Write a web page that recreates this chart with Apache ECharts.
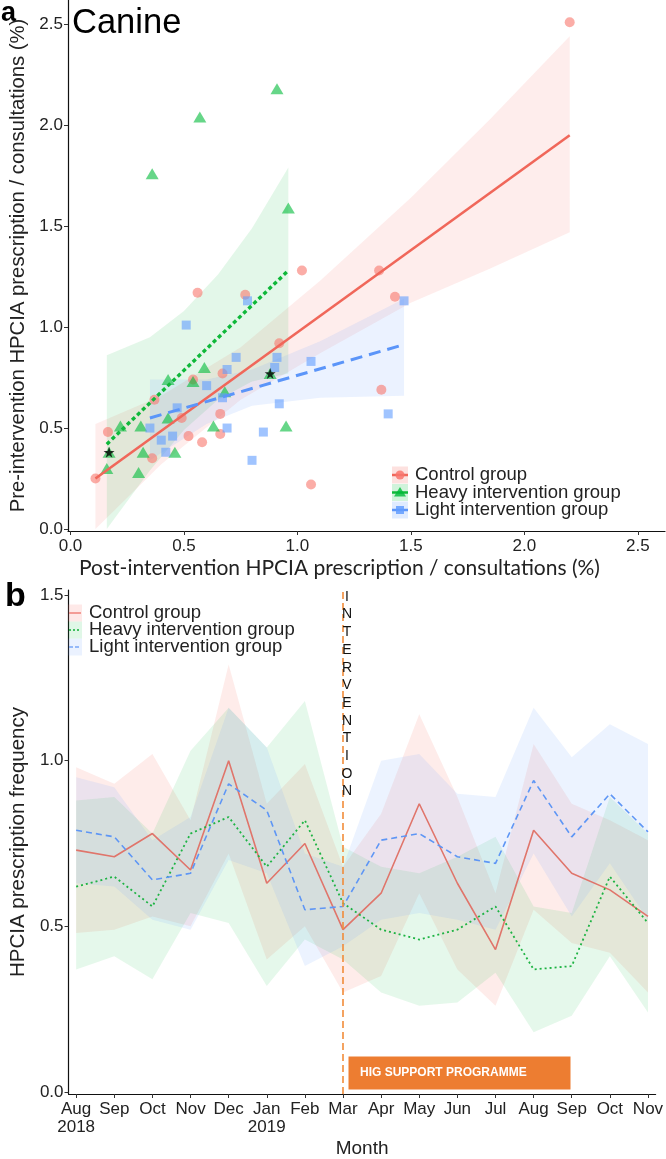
<!DOCTYPE html>
<html><head><meta charset="utf-8">
<script src="https://cdn.jsdelivr.net/npm/echarts@6/dist/echarts.min.js"></script>
<style>html,body{margin:0;padding:0;background:#fff}#c{width:666px;height:1159px}</style>
</head><body><div id="c"></div>
<script>
// ---------- Panel a: scatter data (post, pre) ----------
const controlPts = [[0.11,0.25],[0.165,0.48],[0.36,0.35],[0.37,0.64],[0.49,0.55],[0.52,0.46],[0.54,0.74],[0.56,1.17],[0.58,0.43],[0.66,0.57],[0.66,0.47],[0.67,0.77],[0.77,1.16],[0.92,0.92],[1.02,1.28],[1.06,0.22],[1.36,1.28],[1.37,0.69],[1.43,1.15],[2.2,2.51]];
const heavyPts = [[0.16,0.30],[0.17,0.38],[0.22,0.51],[0.30,0.28],[0.31,0.51],[0.32,0.38],[0.36,1.76],[0.43,0.74],[0.43,0.55],[0.46,0.38],[0.54,0.73],[0.57,2.04],[0.59,0.80],[0.63,0.51],[0.68,0.68],[0.88,0.77],[0.91,2.18],[0.95,0.51],[0.96,1.59]];
const lightPts = [[0.35,0.50],[0.40,0.44],[0.42,0.38],[0.45,0.46],[0.47,0.60],[0.51,1.01],[0.60,0.71],[0.67,0.65],[0.69,0.79],[0.69,0.50],[0.73,0.85],[0.78,1.13],[0.80,0.34],[0.85,0.48],[0.90,0.80],[0.91,0.85],[0.92,0.62],[1.06,0.83],[1.40,0.57],[1.47,1.13]];
const starPts = [[0.17,0.38],[0.88,0.77]];
// fitted lines
const controlFit = [[0.11,0.25],[2.2,1.95]];
const heavyFit = [[0.16,0.42],[0.96,1.28]];
const lightFit = [[0.35,0.55],[1.46,0.91]];
// confidence bands
const controlBandX = [0.11,0.4,0.75,1.1,1.5,1.85,2.2];
const controlBandLo = [0.0,0.32,0.64,0.87,1.12,1.29,1.47];
const controlBandHi = [0.52,0.66,0.90,1.23,1.64,2.03,2.44];
const heavyBandX = [0.16,0.35,0.5,0.65,0.8,0.96];
const heavyBandLo = [0.0,0.29,0.49,0.64,0.73,0.77];
const heavyBandHi = [0.86,0.95,1.08,1.26,1.49,1.79];
const lightBandX = [0.35,0.6,0.8,1.1,1.47];
const lightBandLo = [0.34,0.52,0.61,0.65,0.66];
const lightBandHi = [0.74,0.74,0.79,0.93,1.14];
const aTicks = [0,0.5,1,1.5,2,2.5];

// ---------- Panel b: monthly series ----------
const months = ['Aug','Sep','Oct','Nov','Dec','Jan','Feb','Mar','Apr','May','Jun','Jul','Aug','Sep','Oct','Nov'];
const monthYears = {0:'2018',5:'2019'};
const controlMean = [0.73,0.71,0.78,0.67,1.00,0.63,0.75,0.49,0.60,0.87,0.63,0.43,0.79,0.66,0.61,0.53];
const controlLo   = [0.48,0.49,0.53,0.50,0.72,0.40,0.50,0.30,0.35,0.60,0.37,0.26,0.55,0.45,0.42,0.30];
const controlHi   = [0.98,0.93,1.02,0.82,1.29,0.87,0.99,0.68,0.84,1.14,0.89,0.60,1.05,0.87,0.82,0.76];
const heavyMean = [0.62,0.65,0.56,0.78,0.83,0.68,0.82,0.57,0.49,0.46,0.49,0.56,0.37,0.38,0.65,0.51];
const heavyLo   = [0.37,0.41,0.34,0.54,0.51,0.32,0.46,0.40,0.30,0.26,0.27,0.36,0.18,0.23,0.41,0.24];
const heavyHi   = [0.88,0.89,0.78,1.03,1.16,1.04,1.18,0.74,0.68,0.66,0.71,0.77,0.56,0.54,0.89,0.78];
const lightMean = [0.79,0.77,0.64,0.66,0.93,0.85,0.55,0.56,0.76,0.78,0.71,0.69,0.94,0.77,0.90,0.785];
const lightLo   = [0.63,0.62,0.52,0.49,0.70,0.66,0.38,0.44,0.52,0.54,0.52,0.49,0.72,0.53,0.69,0.52];
const lightHi   = [0.95,0.92,0.76,0.83,1.16,1.04,0.72,0.68,1.00,1.02,0.90,0.89,1.16,1.01,1.11,1.05];
const interventionMonth = 7;
const bTicksY = [0,0.5,1,1.5];

// ---------- styling ----------
const FONT = '"Liberation Sans", Arial, sans-serif';
const RED = '#F8766D', GREEN = '#00BA38', BLUE = '#619CFF';
const idx = months.map((_, i) => i);

function band(xs, lo, hi, fill, gi) {
  return {
    type: 'custom', xAxisIndex: gi, yAxisIndex: gi, silent: true, z: 1, clip: true,
    data: [[xs[0], lo[0]]],
    renderItem: (params, api) => {
      const pts = [];
      for (let i = 0; i < xs.length; i++) pts.push(api.coord([xs[i], hi[i]]));
      for (let i = xs.length - 1; i >= 0; i--) pts.push(api.coord([xs[i], lo[i]]));
      return { type: 'polygon', shape: { points: pts }, style: { fill: fill } };
    }
  };
}
function pairs(ys) { return idx.map(i => [i, ys[i]]); }

const axisLineStyle = { color: '#111', width: 1.2 };
const tickStyle = { color: '#333', width: 1 };
const labelBase = { fontFamily: FONT, fontSize: 17, color: '#222' };

const option = {
  animation: false,
  grid: [
    { left: 59.5, top: 0, width: 605.5, height: 531 },
    { left: 61, top: 590, width: 595, height: 505 }
  ],
  xAxis: [
    { gridIndex: 0, type: 'value', min: -0.011, max: 2.62, splitLine: { show: false },
      axisLine: { onZero: false, lineStyle: axisLineStyle },
      axisTick: { customValues: aTicks, length: 4, lineStyle: tickStyle },
      axisLabel: Object.assign({ customValues: aTicks, formatter: v => v.toFixed(1), margin: 7 }, labelBase),
      name: 'Post-intervention HPCIA prescription / consultations (%)', nameLocation: 'middle', nameGap: 27,
      nameTextStyle: { fontFamily: 'Lato, "Open Sans", sans-serif', fontSize: 21, color: '#222', padding: [0, 54, 0, 0] } },
    { gridIndex: 1, type: 'value', min: -0.2, max: 15.2, splitLine: { show: false },
      axisLine: { onZero: false, lineStyle: axisLineStyle },
      axisTick: { customValues: idx, length: 4, lineStyle: tickStyle },
      axisLabel: Object.assign({ customValues: idx, margin: 6, lineHeight: 18,
        formatter: v => months[Math.round(v)] + (monthYears[Math.round(v)] ? '\n' + monthYears[Math.round(v)] : '') }, labelBase),
      name: 'Month', nameLocation: 'middle', nameGap: 45,
      nameTextStyle: { fontFamily: FONT, fontSize: 19, color: '#222' } }
  ],
  yAxis: [
    { gridIndex: 0, type: 'value', min: -0.01, max: 2.62, splitLine: { show: false },
      axisLine: { onZero: false, lineStyle: axisLineStyle },
      axisTick: { customValues: aTicks, length: 4, lineStyle: tickStyle },
      axisLabel: Object.assign({ customValues: aTicks, formatter: v => v.toFixed(1), margin: 5 }, labelBase),
      name: 'Pre-intervention HPCIA prescription / consultations (%)', nameLocation: 'middle', nameGap: 40,
      nameTextStyle: { fontFamily: FONT, fontSize: 20.3, color: '#222' } },
    { gridIndex: 1, type: 'value', min: -0.006, max: 1.515, splitLine: { show: false },
      axisLine: { onZero: false, lineStyle: axisLineStyle },
      axisTick: { customValues: bTicksY, length: 4, lineStyle: tickStyle },
      axisLabel: Object.assign({ customValues: bTicksY, formatter: v => v.toFixed(1), margin: 5 }, labelBase),
      name: 'HPCIA prescription frequency', nameLocation: 'middle', nameGap: 31,
      nameTextStyle: { fontFamily: FONT, fontSize: 20.5, color: '#222' } }
  ],
  series: [
    // panel a bands
    band(controlBandX, controlBandLo, controlBandHi, 'rgba(248,118,109,0.13)', 0),
    band(heavyBandX, heavyBandLo, heavyBandHi, 'rgba(0,186,56,0.11)', 0),
    band(lightBandX, lightBandLo, lightBandHi, 'rgba(97,156,255,0.13)', 0),
    // panel a points
    { name: 'Control group', type: 'scatter', xAxisIndex: 0, yAxisIndex: 0, data: controlPts, symbol: 'circle', symbolSize: 10, z: 2,
      itemStyle: { color: RED, opacity: 0.6 } },
    { name: 'Heavy intervention group', type: 'scatter', xAxisIndex: 0, yAxisIndex: 0, data: heavyPts, symbol: 'triangle', symbolSize: [13, 11], z: 2,
      itemStyle: { color: GREEN, opacity: 0.6 } },
    { name: 'Light intervention group', type: 'scatter', xAxisIndex: 0, yAxisIndex: 0, data: lightPts, symbol: 'rect', symbolSize: 9, z: 2,
      itemStyle: { color: BLUE, opacity: 0.6 } },
    // panel a fit lines
    { type: 'line', xAxisIndex: 0, yAxisIndex: 0, data: controlFit, showSymbol: false, z: 3,
      lineStyle: { color: '#F0675A', width: 2.6 } },
    { type: 'line', xAxisIndex: 0, yAxisIndex: 0, data: heavyFit, showSymbol: false, z: 3,
      lineStyle: { color: '#0FB83A', width: 3.4, type: [4, 3] } },
    { type: 'line', xAxisIndex: 0, yAxisIndex: 0, data: lightFit, showSymbol: false, z: 3,
      lineStyle: { color: '#5B95F9', width: 3, type: [12, 7] } },
    { type: 'scatter', xAxisIndex: 0, yAxisIndex: 0, data: starPts, z: 4, symbolSize: 11,
      symbol: 'path://M50,0 L61,35 L98,35 L68,57 L79,91 L50,70 L21,91 L32,57 L2,35 L39,35 Z',
      itemStyle: { color: '#000' } },
    // panel b bands
    band(idx, controlLo, controlHi, 'rgba(248,118,109,0.14)', 1),
    band(idx, heavyLo, heavyHi, 'rgba(0,186,56,0.10)', 1),
    band(idx, lightLo, lightHi, 'rgba(97,156,255,0.12)', 1),
    // panel b lines
    { type: 'line', xAxisIndex: 1, yAxisIndex: 1, data: pairs(controlMean), showSymbol: false, z: 3,
      lineStyle: { color: '#E0756B', width: 1.6 },
      markLine: { silent: true, symbol: 'none', label: { show: false },
        lineStyle: { color: '#F28C3A', width: 1.6, type: [7, 4] },
        data: [{ xAxis: interventionMonth }] } },
    { type: 'line', xAxisIndex: 1, yAxisIndex: 1, data: pairs(heavyMean), showSymbol: false, z: 3,
      lineStyle: { color: '#1DB343', width: 1.8, type: [2, 3] } },
    { type: 'line', xAxisIndex: 1, yAxisIndex: 1, data: pairs(lightMean), showSymbol: false, z: 3,
      lineStyle: { color: '#5E96F5', width: 1.6, type: [6, 4] } }
  ],
  graphic: []
};

const g = option.graphic;
// panel letters and title
g.push({ type: 'text', left: 1, top: 0, style: { text: 'a', font: 'bold 27px ' + FONT, fill: '#000' } });
g.push({ type: 'text', left: 72, top: 6, style: { text: 'Canine', font: '34.5px ' + FONT, fill: '#000' } });
g.push({ type: 'text', left: 5, top: 580, style: { text: 'b', font: 'bold 34px ' + FONT, fill: '#000' } });

// panel a legend
const legA = [
  { t: 'Control group', fill: 'rgba(248,118,109,0.22)', c: '#F0675A', sym: 'circle', sc: 'rgba(248,118,109,0.85)' },
  { t: 'Heavy intervention group', fill: 'rgba(0,186,56,0.18)', c: '#0FB83A', sym: 'tri', sc: 'rgba(0,186,56,0.8)' },
  { t: 'Light intervention group', fill: 'rgba(97,156,255,0.2)', c: '#5B95F9', sym: 'sq', sc: 'rgba(97,156,255,0.85)' }
];
const legAY = [475, 492.5, 510];
legA.forEach((L, i) => {
  const y = legAY[i];
  g.push({ type: 'rect', shape: { x: 392, y: y - 8.5, width: 16, height: 17 }, style: { fill: L.fill }, z: 10 });
  g.push({ type: 'line', shape: { x1: 392, y1: y, x2: 408, y2: y }, style: { stroke: L.c, lineWidth: 2.5 }, z: 11 });
  if (L.sym === 'circle') g.push({ type: 'circle', shape: { cx: 400, cy: y, r: 4.5 }, style: { fill: L.sc }, z: 12 });
  if (L.sym === 'tri') g.push({ type: 'polygon', shape: { points: [[400, y - 5.5], [406, y + 4], [394, y + 4]] }, style: { fill: L.sc }, z: 12 });
  if (L.sym === 'sq') g.push({ type: 'rect', shape: { x: 396, y: y - 4, width: 8, height: 8 }, style: { fill: L.sc }, z: 12 });
  g.push({ type: 'text', x: 415, y: y, style: { text: L.t, font: '18.5px ' + FONT, fill: '#222', verticalAlign: 'middle' }, z: 12 });
});

// panel b legend
const legB = [
  { t: 'Control group', fill: 'rgba(248,118,109,0.16)', c: '#F08A82', dash: null },
  { t: 'Heavy intervention group', fill: 'rgba(0,186,56,0.12)', c: '#1DB343', dash: [2, 2] },
  { t: 'Light intervention group', fill: 'rgba(97,156,255,0.13)', c: '#7AA7F7', dash: [4, 2] }
];
const legBY = [613, 630, 647];
legB.forEach((L, i) => {
  const y = legBY[i];
  g.push({ type: 'rect', shape: { x: 68, y: y - 8.5, width: 14, height: 17 }, style: { fill: L.fill }, z: 10 });
  g.push({ type: 'line', shape: { x1: 69, y1: y, x2: 81, y2: y }, style: { stroke: L.c, lineWidth: 1.6, lineDash: L.dash }, z: 11 });
  g.push({ type: 'text', x: 89, y: y, style: { text: L.t, font: '18.5px ' + FONT, fill: '#222', verticalAlign: 'middle' }, z: 12 });
});

// intervention annotation
g.push({ type: 'text', x: 347, y: 588, style: { text: 'INTERVENTION'.split('').join('\n'), font: '14px ' + FONT,
  lineHeight: 17.7, fill: '#111', align: 'center' }, z: 12 });
// HIG support programme box
g.push({ type: 'rect', shape: { x: 348, y: 1056, width: 223, height: 34 }, style: { fill: '#ED7D31', stroke: '#fff', lineWidth: 1 }, z: 12 });
g.push({ type: 'text', x: 360, y: 1073, style: { text: 'HIG SUPPORT PROGRAMME', font: 'bold 12px ' + FONT, fill: '#fff',
  align: 'left', verticalAlign: 'middle' }, z: 13 });

const chart = echarts.init(document.getElementById('c'));
chart.setOption(option);
</script>
</body></html>
